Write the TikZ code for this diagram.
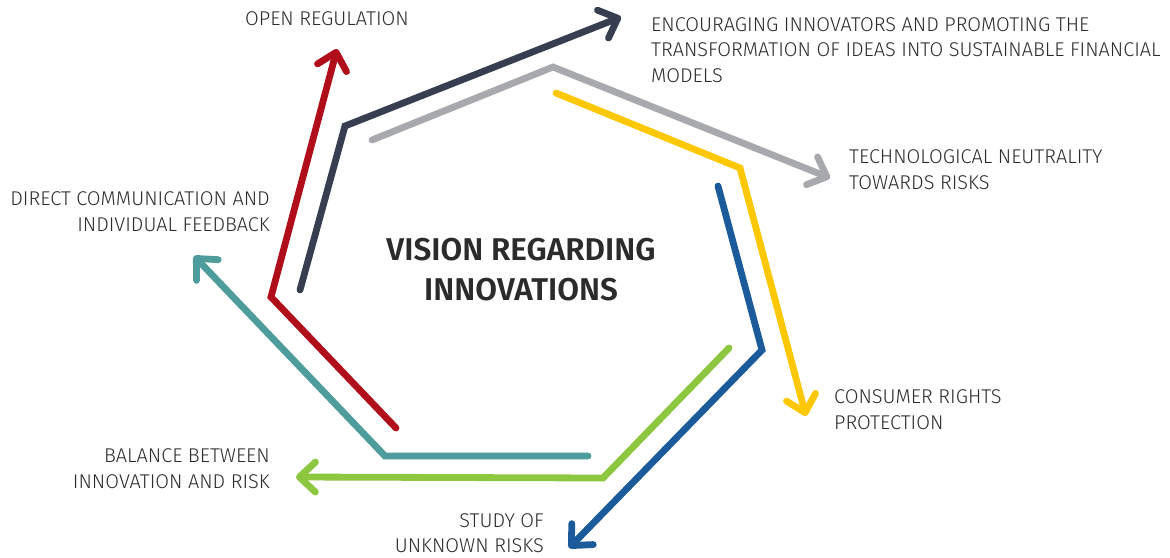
\documentclass[tikz,border=0pt]{standalone}
\usepackage{fontspec}
\setmainfont{Fira Sans}[UprightFont=* Light, BoldFont=* SemiBold]
\usetikzlibrary{arrows.meta}
\definecolor{ink}{HTML}{2B2B2B}
\definecolor{navy}{HTML}{363E50}
\definecolor{crimson}{HTML}{B10E1C}
\definecolor{silver}{HTML}{A8A9AD}
\definecolor{sun}{HTML}{FDC800}
\definecolor{ocean}{HTML}{1B5B9B}
\definecolor{lime}{HTML}{8DC63F}
\definecolor{teal}{HTML}{4F9C9C}
\begin{document}
\begin{tikzpicture}[x=1pt,y=-1pt,
  flow/.style={line width=6.8pt, line cap=round, line join=miter,
    -{Straight Barb[length=16pt,width=30pt,round]}},
  lbl/.style={font=\fontsize{19.9}{25.5}\selectfont, text=ink, inner sep=0pt},
  title/.style={font=\fontsize{31.5}{40}\selectfont\bfseries, text=ink, inner sep=0pt, align=center}]
\useasboundingbox (0,0) rectangle (1170,557);

% corner points of the seven bent arrows
\coordinate (n0) at (300,290); \coordinate (n1) at (345,126); \coordinate (n2) at (621,17);
\coordinate (r0) at (396,428); \coordinate (r1) at (271,297); \coordinate (r2) at (337,49);
\coordinate (g0) at (372,140); \coordinate (g1) at (553,67);  \coordinate (g2) at (830,178);
\coordinate (y0) at (556,93);  \coordinate (y1) at (740,168); \coordinate (y2) at (806,416);
\coordinate (b0) at (718,186); \coordinate (b1) at (762,350); \coordinate (b2) at (569,548);
\coordinate (v0) at (729,348); \coordinate (v1) at (603,478); \coordinate (v2) at (296,477);
\coordinate (t0) at (588,456); \coordinate (t1) at (385,456); \coordinate (t2) at (194,256);

\draw[flow, silver]  (g0) -- (g1) -- (g2);
\draw[flow, sun]     (y0) -- (y1) -- (y2);
\draw[flow, ocean]   (b0) -- (b1) -- (b2);
\draw[flow, lime]    (v0) -- (v1) -- (v2);
\draw[flow, teal]    (t0) -- (t1) -- (t2);
\draw[flow, crimson] (r0) -- (r1) -- (r2);
\draw[flow, navy]    (n0) -- (n1) -- (n2);

% labels
\node[title] (vision) at (521,270) {VISION REGARDING\\INNOVATIONS};
\node[lbl, anchor=west] (openreg) at (245,19) {OPEN REGULATION};
\node[lbl, anchor=west, align=left] (encourage) at (651,50)
  {ENCOURAGING INNOVATORS AND PROMOTING THE\\TRANSFORMATION OF IDEAS INTO SUSTAINABLE FINANCIAL\\MODELS};
\node[lbl, anchor=west, align=left] (neutral) at (849,169.5) {TECHNOLOGICAL NEUTRALITY\\TOWARDS RISKS};
\node[lbl, anchor=west, align=left] (consumer) at (834,409.5) {CONSUMER RIGHTS\\PROTECTION};
\node[lbl, anchor=east, align=right] (study) at (544,533) {STUDY OF\\UNKNOWN RISKS};
\node[lbl, anchor=east, align=right] (balance) at (270,468.5) {BALANCE BETWEEN\\INNOVATION AND RISK};
\node[lbl, anchor=east, align=right] (direct) at (270,211.5) {DIRECT COMMUNICATION AND\\INDIVIDUAL FEEDBACK};
\end{tikzpicture}
\end{document}
